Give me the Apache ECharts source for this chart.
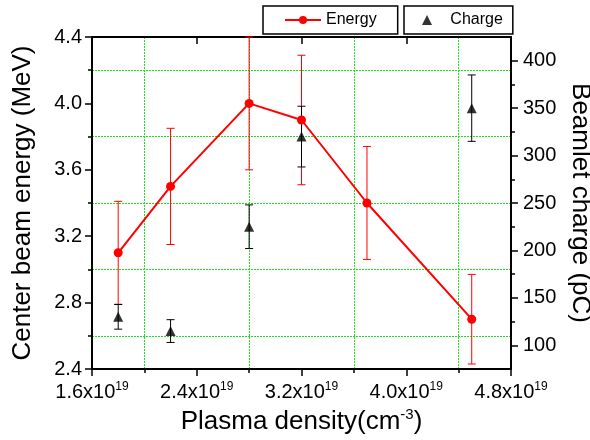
<!DOCTYPE html>
<html>
<head>
<meta charset="utf-8">
<script src="https://cdn.jsdelivr.net/npm/echarts@6/dist/echarts.min.js"></script>
<style>
  html, body { margin: 0; padding: 0; background: #fff; }
  #chart { width: 590px; height: 440px; }
</style>
</head>
<body>
<div id="chart"></div>
<script>
// Plasma density in units of 10^19 cm^-3
const densityEnergy = [1.8, 2.2, 2.8, 3.2, 3.7, 4.5];
const energyMeV = [3.10, 3.50, 4.00, 3.90, 3.40, 2.70];
const energyErr = [0.31, 0.35, 0.40, 0.39, 0.34, 0.27];

const densityCharge = [1.8, 2.2, 2.8, 3.2, 4.5];
const chargePC = [130, 115, 225, 320, 350];
const chargeErr = [13, 12, 23, 32, 35];

const chargeMajorTicks = [100, 150, 200, 250, 300, 350, 400];
const chargeMinorTicks = [125, 175, 225, 275, 325, 375];

const FONT = '"Liberation Sans", Arial, sans-serif';
const GRID_GREEN = '#1ee01e';

const energyPoints = densityEnergy.map((x, i) => [x, energyMeV[i]]);
const energyBars = densityEnergy.map((x, i) => [x, energyMeV[i] - energyErr[i], energyMeV[i] + energyErr[i]]);
const chargePoints = densityCharge.map((x, i) => [x, chargePC[i]]);
const chargeBars = densityCharge.map((x, i) => [x, chargePC[i] - chargeErr[i], chargePC[i] + chargeErr[i]]);

// vertical error bar with end caps
function errorBar(color) {
  return function (params, api) {
    const x = api.value(0);
    const lo = api.coord([x, api.value(1)]);
    const hi = api.coord([x, api.value(2)]);
    const cap = 4;
    const style = { stroke: color, lineWidth: 1 };
    return {
      type: 'group',
      children: [
        { type: 'line', shape: { x1: lo[0], y1: lo[1], x2: hi[0], y2: hi[1] }, style },
        { type: 'line', shape: { x1: lo[0] - cap, y1: lo[1], x2: lo[0] + cap, y2: lo[1] }, style },
        { type: 'line', shape: { x1: hi[0] - cap, y1: hi[1], x2: hi[0] + cap, y2: hi[1] }, style }
      ]
    };
  };
}

const axisLine = () => ({ show: true, onZero: false, lineStyle: { color: '#000', width: 2 } });
const minorGrid = () => ({ show: true, lineStyle: { color: GRID_GREEN, width: 1, type: [2, 1], opacity: 1 } });
const tickStyle = () => ({ color: '#000', width: 1.5 });

const chart = echarts.init(document.getElementById('chart'), null, { renderer: 'canvas' });
chart.setOption({
  backgroundColor: '#fff',
  animation: false,
  textStyle: { fontFamily: FONT },
  grid: { left: 92, right: 79, top: 37, bottom: 71, containLabel: false, outerBoundsMode: 'none' },
  legend: [
    {
      data: ['Energy'],
      left: 263, top: 6,
      itemWidth: 36, itemHeight: 10,
      padding: [6, 21, 6, 21],
      borderColor: '#000', borderWidth: 1.5, borderRadius: 0,
      textStyle: { fontFamily: FONT, fontSize: 16, color: '#000' }
    },
    {
      data: [{ name: 'Charge', icon: 'triangle' }],
      left: 404, top: 6,
      itemWidth: 10, itemHeight: 10,
      padding: [6, 10, 6, 18],
      borderColor: '#000', borderWidth: 1.5, borderRadius: 0,
      formatter: name => '   ' + name,
      textStyle: { fontFamily: FONT, fontSize: 16, color: '#000' }
    }
  ],
  xAxis: [
    {
      type: 'value', position: 'bottom',
      min: 1.6, max: 4.8, interval: 0.8,
      axisLine: axisLine(),
      axisTick: { show: true, inside: false, length: 7, lineStyle: tickStyle() },
      minorTick: { show: true, splitNumber: 2, length: 4, lineStyle: tickStyle() },
      splitLine: { show: false },
      minorSplitLine: minorGrid(),
      axisLabel: {
        margin: 12,
        formatter: v => '{m|' + v.toFixed(1) + 'x10}{s|19}',
        rich: {
          m: { fontFamily: FONT, fontSize: 20, color: '#000', lineHeight: 22 },
          s: { fontFamily: FONT, fontSize: 12, color: '#000', verticalAlign: 'top', lineHeight: 22 }
        }
      },
      name: '{t|Plasma density(cm}{s|-3}{t|)}',
      nameLocation: 'middle',
      nameGap: 28,
      nameTextStyle: {
        rich: {
          t: { fontFamily: FONT, fontSize: 26, color: '#000', lineHeight: 30 },
          s: { fontFamily: FONT, fontSize: 15, color: '#000', verticalAlign: 'top', lineHeight: 30 }
        }
      }
    },
    {
      type: 'value', position: 'top',
      min: 1.6, max: 4.8, interval: 0.8,
      axisLine: axisLine(),
      axisTick: { show: true, inside: true, length: 7, lineStyle: tickStyle() },
      axisLabel: { show: false },
      splitLine: { show: false },
      minorSplitLine: { show: false }
    }
  ],
  yAxis: [
    {
      type: 'value', position: 'left',
      min: 2.4, max: 4.4, interval: 0.4,
      axisLine: axisLine(),
      axisTick: { show: true, inside: false, length: 7, lineStyle: tickStyle() },
      minorTick: { show: true, splitNumber: 2, length: 4, lineStyle: tickStyle() },
      splitLine: { show: false },
      minorSplitLine: minorGrid(),
      axisLabel: {
        margin: 10, fontFamily: FONT, fontSize: 20, color: '#000',
        formatter: v => v.toFixed(1)
      },
      name: 'Center beam energy (MeV)',
      nameLocation: 'middle',
      nameGap: 56,
      nameTextStyle: { fontFamily: FONT, fontSize: 26, color: '#000' }
    },
    {
      type: 'value', position: 'right',
      min: 75, max: 425,
      axisLine: axisLine(),
      axisTick: { show: true, inside: false, length: 7, customValues: chargeMajorTicks, lineStyle: tickStyle() },
      axisLabel: {
        margin: 12, fontFamily: FONT, fontSize: 20, color: '#000',
        customValues: chargeMajorTicks
      },
      splitLine: { show: false },
      name: 'Beamlet charge (pC)',
      nameLocation: 'middle',
      nameRotate: -90,
      nameGap: 46,
      nameTextStyle: { fontFamily: FONT, fontSize: 26, color: '#000' }
    },
    {
      // minor ticks of the charge axis
      type: 'value', position: 'right',
      min: 75, max: 425,
      axisLine: { show: false },
      axisTick: { show: true, inside: false, length: 4, customValues: chargeMinorTicks, lineStyle: tickStyle() },
      axisLabel: { show: false },
      splitLine: { show: false }
    }
  ],
  series: [
    {
      name: 'Energy bars',
      type: 'custom',
      xAxisIndex: 0, yAxisIndex: 0,
      renderItem: errorBar('#ff0000'),
      data: energyBars,
      clip: false,
      z: 3
    },
    {
      name: 'Charge bars',
      type: 'custom',
      xAxisIndex: 0, yAxisIndex: 1,
      renderItem: errorBar('#000000'),
      data: chargeBars,
      clip: false,
      z: 3
    },
    {
      name: 'Charge',
      type: 'scatter',
      xAxisIndex: 0, yAxisIndex: 1,
      symbol: 'triangle',
      symbolSize: 10,
      itemStyle: { color: '#000' },
      data: chargePoints,
      z: 4
    },
    {
      name: 'Energy',
      type: 'line',
      xAxisIndex: 0, yAxisIndex: 0,
      symbol: 'circle',
      symbolSize: 9,
      showAllSymbol: true,
      itemStyle: { color: '#ff0000' },
      lineStyle: { color: '#ff0000', width: 2 },
      data: energyPoints,
      z: 5
    }
  ]
});
</script>
</body>
</html>
